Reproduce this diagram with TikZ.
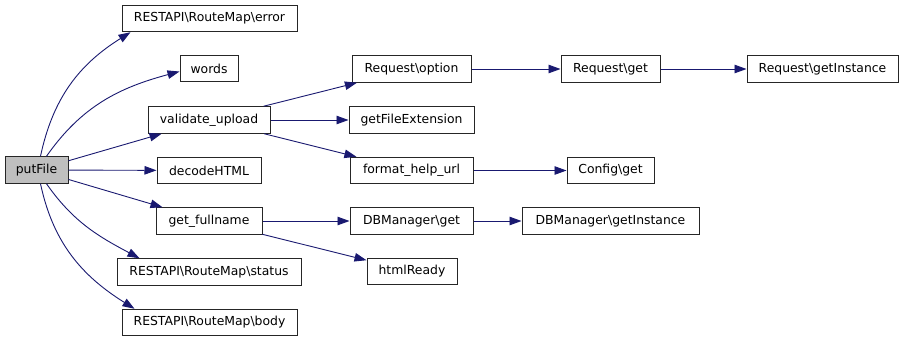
\documentclass[tikz,border=0pt]{standalone}
\usepackage{fontspec}
\setmainfont{DejaVu Sans}
\usepackage{tikz}
\usetikzlibrary{arrows.meta}
\definecolor{edgeblue}{HTML}{191970}
\definecolor{selgray}{HTML}{BFBFBF}

\begin{document}
\begin{tikzpicture}[
  x=1pt, y=1pt,
  font=\fontsize{12.4}{14}\selectfont,
  box/.style={draw=black!85,line width=1pt,fill=white,inner sep=0pt,minimum height=26.5pt,anchor=center},
  arr/.style={-{Triangle[length=12pt,width=8.5pt]},draw=edgeblue,line width=0.9pt}
]
\useasboundingbox (0,0) rectangle (904,-341);
% caller
\node[box,fill=selgray,minimum width=63pt] (put) at (36.5,-170) {putFile};
% first level
\node[box,minimum width=175pt] (err) at (209.5,-18.5) {RESTAPI\textbackslash RouteMap\textbackslash error};
\node[box,minimum width=58pt] (words) at (209,-68.5) {words};
\node[box,minimum width=122pt] (valid) at (209,-120) {validate\_upload};
\node[box,minimum width=104pt] (decode) at (209,-170.5) {decodeHTML};
\node[box,minimum width=106pt] (fullname) at (209,-221) {get\_fullname};
\node[box,minimum width=184pt] (status) at (209,-272) {RESTAPI\textbackslash RouteMap\textbackslash status};
\node[box,minimum width=175pt] (body) at (209.5,-322.5) {RESTAPI\textbackslash RouteMap\textbackslash body};
% second level
\node[box,minimum width=119pt] (option) at (411.5,-69) {Request\textbackslash option};
\node[box,minimum width=125pt] (fileext) at (411.5,-120) {getFileExtension};
\node[box,minimum width=123pt] (helpurl) at (411.5,-170.5) {format\_help\_url};
\node[box,minimum width=123pt] (dbget) at (411.5,-221) {DBManager\textbackslash get};
\node[box,minimum width=90pt] (html) at (412,-271.5) {htmlReady};
% third level
\node[box,minimum width=99pt] (reqget) at (610.5,-69) {Request\textbackslash get};
\node[box,minimum width=87pt] (config) at (610.5,-170.5) {Config\textbackslash get};
\node[box,minimum width=177pt] (dbinst) at (610.5,-221) {DBManager\textbackslash getInstance};
\node[box,minimum width=151pt] (reqinst) at (822.5,-69) {Request\textbackslash getInstance};

\draw[arr] ([xshift=4pt]put.north) to[out=78,in=212] ([xshift=9pt]err.south west);
\draw[arr] ([xshift=10pt]put.north) to[out=55,in=195] ([yshift=-3pt]words.west);
\draw[arr] (put) -- (valid);
\draw[arr] (put) -- (decode);
\draw[arr] (put) -- (fullname);
\draw[arr] ([xshift=10pt]put.south) to[out=-55,in=152] ([xshift=23pt]status.north west);
\draw[arr] ([xshift=4pt]put.south) to[out=-78,in=148] ([xshift=13pt]body.north west);
\draw[arr] (valid) -- (option);
\draw[arr] (valid) -- (fileext);
\draw[arr] (valid) -- (helpurl);
\draw[arr] (option) -- (reqget);
\draw[arr] (reqget) -- (reqinst);
\draw[arr] (helpurl) -- (config);
\draw[arr] (fullname) -- (dbget);
\draw[arr] (fullname) -- (html);
\draw[arr] (dbget) -- (dbinst);
\end{tikzpicture}
\end{document}
